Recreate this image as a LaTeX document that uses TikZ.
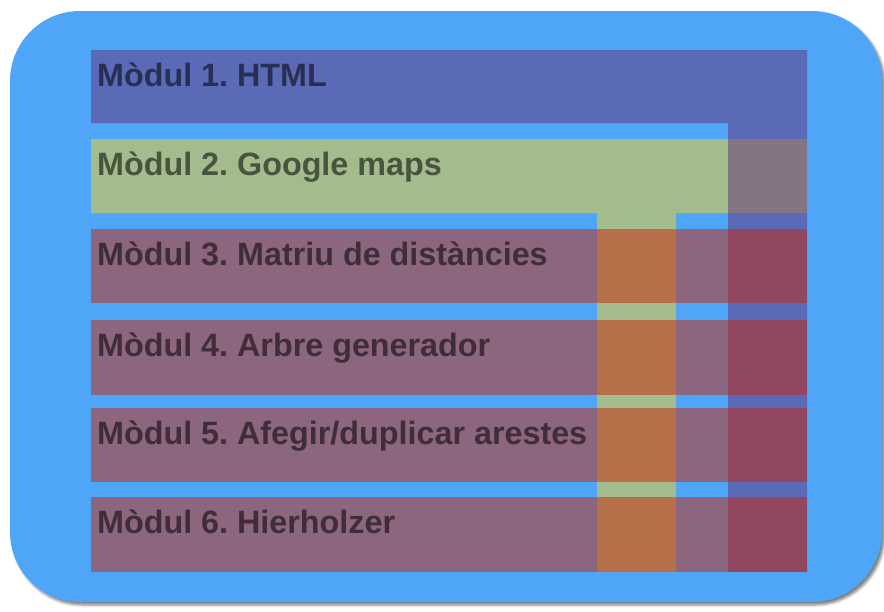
\documentclass[tikz,border=0pt]{standalone}
\usepackage{fontspec}
\setmainfont{Liberation Sans}
\usetikzlibrary{shadows.blur}

\definecolor{panelblue}{RGB}{79,166,248}
\definecolor{layerblue}{RGB}{101,48,120}
\definecolor{layergreen}{RGB}{245,210,36}
\definecolor{layerred}{RGB}{201,38,8}

\frenchspacing

\begin{document}
\begin{tikzpicture}[x=1pt,y=-1pt,
  layer/.style={fill opacity=0.5, draw=none},
  modlabel/.style={anchor=base west, inner sep=0pt,
    font=\fontsize{32.3}{36}\selectfont\bfseries,
    text=black, text opacity=0.55}]
\useasboundingbox (0,0) rectangle (884,611);

% rounded panel with a soft drop shadow
\fill[panelblue, rounded corners=70pt,
  blur shadow={shadow xshift=2.5pt, shadow yshift=-3pt,
               shadow blur radius=2.5pt, shadow opacity=50}]
  (10,11) rectangle (882,602);

% module 2: bar plus a column running down
\fill[layergreen, layer]
  (91,139) -- (807,139) -- (807,213) -- (676,213) -- (676,572)
  -- (597,572) -- (597,213) -- (91,213) -- cycle;

% module 1: bar plus a column on the right
\fill[layerblue, layer]
  (91,50) -- (807,50) -- (807,572) -- (728,572) -- (728,123)
  -- (91,123) -- cycle;

% modules 3 to 6: plain bars
\foreach \top/\bot in {229/303, 320/395, 408/482, 497/572}
  \fill[layerred, layer] (91,\top) rectangle (807,\bot);

% labels
\node[modlabel] (m1) at (97,86)  {Mòdul 1. HTML};
\node[modlabel] (m2) at (97,175) {Mòdul 2. Google maps};
\node[modlabel] (m3) at (97,265) {Mòdul 3. Matriu de distàncies};
\node[modlabel] (m4) at (97,356) {Mòdul 4. Arbre generador};
\node[modlabel] (m5) at (97,444) {Mòdul 5. Afegir/duplicar arestes};
\node[modlabel] (m6) at (97,533) {Mòdul 6. Hierholzer};
\end{tikzpicture}
\end{document}
